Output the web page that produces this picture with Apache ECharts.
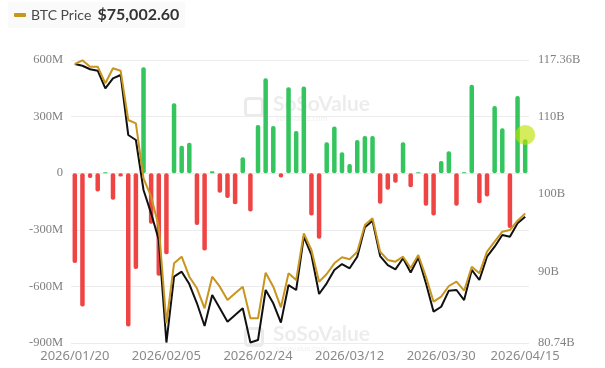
<!DOCTYPE html>
<html>
<head>
<meta charset="utf-8">
<script src="https://cdn.jsdelivr.net/npm/echarts@6/dist/echarts.min.js"></script>
<style>
html,body{margin:0;padding:0;background:#fff;}
#chart{width:605px;height:368px;}
</style>
</head>
<body>
<div id="chart"></div>
<script>
// Trading-day categories
const dates = [
'2026/01/20','2026/01/21','2026/01/22','2026/01/23','2026/01/26','2026/01/27','2026/01/28','2026/01/29','2026/01/30',
'2026/02/02','2026/02/03','2026/02/04','2026/02/05','2026/02/06','2026/02/09','2026/02/10','2026/02/11','2026/02/12','2026/02/13',
'2026/02/17','2026/02/18','2026/02/19','2026/02/20','2026/02/23','2026/02/24','2026/02/25','2026/02/26','2026/02/27',
'2026/03/02','2026/03/03','2026/03/04','2026/03/05','2026/03/06','2026/03/09','2026/03/10','2026/03/11','2026/03/12','2026/03/13',
'2026/03/16','2026/03/17','2026/03/18','2026/03/19','2026/03/20','2026/03/23','2026/03/24','2026/03/25','2026/03/26','2026/03/27',
'2026/03/30','2026/03/31','2026/04/01','2026/04/02','2026/04/06','2026/04/07','2026/04/08','2026/04/09','2026/04/10',
'2026/04/13','2026/04/14','2026/04/15'
];

// Daily net inflow (millions USD)
const netInflow = [
-476,-706,-26,-97,5,-141,-18,-812,-508,561,
-268,-544,-429,371,145,162,-274,-410,10,-103,
-131,-164,85,-203,256,503,250,-23,455,224,
459,-224,-348,164,247,111,49,176,197,197,
-162,-88,-50,164,-74,5,-172,-224,65,116,
-173,5,469,-159,-124,356,238,-291,409,180
];

// Total net assets (billions USD)
const totalNetAssets = [
116.84,116.62,116.16,115.98,113.70,114.99,115.42,107.66,107.01,100.54,
97.52,94.07,80.80,89.32,89.97,88.37,85.88,82.94,86.95,85.23,
83.50,84.36,85.23,80.80,81.13,87.60,85.88,83.37,88.24,87.60,
94.52,92.13,87.08,88.46,90.19,90.96,90.41,91.91,95.71,96.57,
91.99,90.83,90.27,91.70,89.86,91.80,88.46,84.79,85.43,87.51,
87.60,86.30,90.19,88.89,91.91,93.20,94.72,94.50,96.23,97.09
];

// BTC price (USD)
const btcPrice = [
89880,90250,89613,89613,87960,89454,89215,84305,83977,78500,
76668,73680,64060,70035,70693,68700,67546,65554,68700,67705,
66380,67048,67705,64560,64560,69100,67705,65653,69040,68373,
73023,71360,68203,68970,70035,70633,70434,71190,73850,74517,
71190,70364,70195,70693,69568,70862,68700,66212,66710,67775,
68203,67307,69697,69040,71190,72186,73182,73350,74276,75002.60
];

const leftTicks = [-900, -600, -300, 0, 300, 600];
const rightTicks = [80.74, 90, 100, 110, 117.36];

const GREEN = '#34c55e';
const RED = '#ef4444';
const GOLD = '#c8951f';

const chart = echarts.init(document.getElementById('chart'), null, {renderer: 'canvas'});

const barData = netInflow.map(v => ({
  value: v,
  itemStyle: {color: v >= 0 ? GREEN : RED, borderRadius: 2}
}));

const lastIdx = dates.length - 1;
const highlight = dates.map((d, i) => i === lastIdx ? 203 : null);

function watermark(x, y) {
  return [
    {type: 'rect', left: x, top: y + 2, shape: {width: 17, height: 17, r: 3},
     style: {fill: 'none', stroke: 'rgba(0,0,0,0.08)', lineWidth: 3}, z: 0},
    {type: 'text', left: x + 30, top: y, z: 0,
     style: {text: 'SoSoValue', fontFamily: 'Lato', fontWeight: 'bold', fontSize: 21, fill: 'rgba(0,0,0,0.075)'}},
    {type: 'text', left: x + 33, top: y + 20, z: 0,
     style: {text: 'sosovalue.com', fontFamily: 'Lato', fontSize: 8, fill: 'rgba(0,0,0,0.07)'}}
  ];
}

const option = {
  animation: false,
  backgroundColor: '#ffffff',
  textStyle: {fontFamily: 'Noto Sans'},
  legend: {
    left: 8,
    top: 2,
    data: ['BTC Price'],
    icon: 'roundRect',
    itemWidth: 12,
    itemHeight: 4,
    itemGap: 6,
    padding: [5, 6],
    backgroundColor: 'rgba(0,0,0,0.018)',
    formatter: name => '{a|' + name + '}  {b|$' + btcPrice[lastIdx].toLocaleString('en-US', {minimumFractionDigits: 2, maximumFractionDigits: 2}) + '}',
    textStyle: {
      rich: {
        a: {fontFamily: 'Lato', fontSize: 14, color: '#4a4a4a'},
        b: {fontFamily: 'Lato', fontSize: 16, fontWeight: 'bold', color: '#333'}
      }
    }
  },
  graphic: watermark(243, 94).concat(watermark(243, 324)),
  grid: {left: 71, right: 76, top: 60, bottom: 25, containLabel: false},
  xAxis: {
    type: 'category',
    data: dates,
    boundaryGap: true,
    axisLine: {show: false},
    axisTick: {show: false},
    axisLabel: {
      interval: (i) => i % 12 === 0 || i === lastIdx,
      hideOverlap: false,
      color: '#8a8a8a',
      fontFamily: 'Noto Sans',
      fontSize: 13,
      margin: 7
    },
    splitLine: {show: false}
  },
  yAxis: [
    {
      type: 'value',
      min: leftTicks[0],
      max: leftTicks[leftTicks.length - 1],
      interval: 300,
      axisLine: {show: false},
      axisTick: {show: false},
      axisLabel: {
        color: '#808080',
        fontFamily: 'Liberation Serif',
        fontSize: 12.5,
        margin: 8,
        formatter: v => v === 0 ? '0' : v + 'M'
      },
      splitLine: {lineStyle: {color: '#ececec', width: 1}}
    },
    {
      type: 'value',
      position: 'right',
      min: rightTicks[0],
      max: rightTicks[rightTicks.length - 1],
      axisLine: {show: false},
      axisTick: {show: false},
      axisLabel: {
        customValues: rightTicks,
        color: '#808080',
        fontFamily: 'Liberation Serif',
        fontSize: 12.5,
        margin: 9,
        formatter: v => v + 'B'
      },
      splitLine: {show: false}
    },
    {
      type: 'value',
      show: false,
      min: 62099,
      max: 90280
    }
  ],
  series: [
    {
      name: 'Net Inflow',
      type: 'bar',
      yAxisIndex: 0,
      barWidth: 4.5,
      data: barData,
      z: 2
    },
    {
      name: 'Total Net Assets',
      type: 'line',
      yAxisIndex: 1,
      data: totalNetAssets,
      symbol: 'none',
      lineStyle: {color: '#111111', width: 2},
      z: 3
    },
    {
      name: 'BTC Price',
      type: 'line',
      yAxisIndex: 2,
      data: btcPrice,
      symbol: 'none',
      itemStyle: {color: GOLD},
      lineStyle: {color: GOLD, width: 2},
      z: 4
    },
    {
      name: 'Highlight',
      type: 'scatter',
      yAxisIndex: 0,
      data: highlight,
      symbolSize: 20,
      itemStyle: {color: 'rgba(190,225,0,0.8)'},
      z: 5
    }
  ]
};

chart.setOption(option);
</script>
</body>
</html>
